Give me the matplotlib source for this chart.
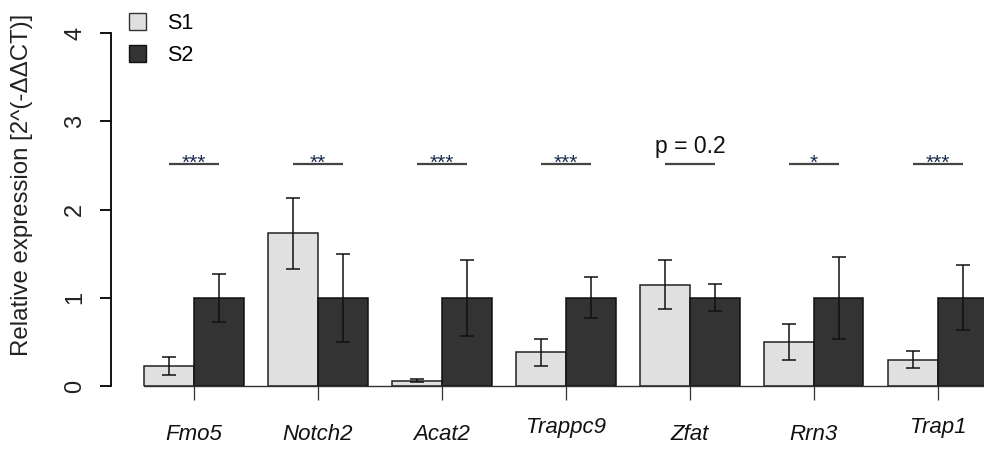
import numpy as np
import matplotlib
matplotlib.use("Agg")
import matplotlib.pyplot as plt
from matplotlib.patches import Patch

# data
genes = ["Fmo5", "Notch2", "Acat2", "Trappc9", "Zfat", "Rrn3", "Trap1"]
s1 = [0.23, 1.73, 0.06, 0.38, 1.15, 0.50, 0.30]
s1_err = [0.10, 0.40, 0.02, 0.15, 0.28, 0.20, 0.095]
s2 = [1.0, 1.0, 1.0, 1.0, 1.0, 1.0, 1.0]
s2_err = [0.27, 0.50, 0.43, 0.23, 0.155, 0.465, 0.37]
signif = ["***", "**", "***", "***", "p = 0.2", "*", "***"]

plt.rcParams["font.family"] = ["Liberation Sans", "DejaVu Sans"]

fig = plt.figure(figsize=(9.84, 4.49), dpi=100)
ax = fig.add_axes([111 / 984, 63 / 449, 873 / 984, 353 / 449])

w = 1.0
gap = 0.5
centers = 1.5 + np.arange(len(genes)) * (2 * w + gap)

ekw = dict(ecolor="#111111", elinewidth=1.1, capsize=5, capthick=1.1)
ax.bar(centers - w / 2, s1, w, yerr=s1_err, color="#e0e0e0",
       edgecolor="#222222", linewidth=1.1, error_kw=ekw, label="S1")
ax.bar(centers + w / 2, s2, w, yerr=s2_err, color="#333333",
       edgecolor="#111111", linewidth=1.1, error_kw=ekw, label="S2")

# significance lines
line_y = 2.51
for c, s in zip(centers, signif):
    ax.plot([c - w / 2, c + w / 2], [line_y, line_y], color="#444444",
            lw=1.6, solid_capstyle="butt", clip_on=False)
    if s.startswith("p"):
        ax.text(c, 2.64, s, ha="center", va="baseline", fontsize=16.5,
                color="#111111")
    else:
        ax.text(c, 2.46, s, ha="center", va="baseline", fontsize=15,
                color="#1a2a50")

ax.set_xlim(-0.173, 17.43)
ax.set_ylim(0, 4)

for sp in ["top", "right"]:
    ax.spines[sp].set_visible(False)
ax.spines["left"].set_linewidth(1.3)
ax.spines["left"].set_bounds(0, 4)
ax.spines["bottom"].set_linewidth(1.0)
ax.spines["bottom"].set_color("#333333")
ax.spines["bottom"].set_bounds(0.5, 17.43)

ax.set_yticks([0, 1, 2, 3, 4])
ax.set_yticklabels(["0", "1", "2", "3", "4"])
ax.tick_params(axis="y", length=8, width=1.3, pad=10, labelsize=17)
for lab in ax.get_yticklabels():
    lab.set_rotation(90)
    lab.set_ha("right")
    lab.set_va("center")
    lab.set_color("#222222")

ax.set_xticks(centers)
ax.set_xticklabels([""] * len(genes))
ax.tick_params(axis="x", length=10, width=0.9, color="#333333")

for c, g in zip(centers, genes):
    off = -34.2 if any(ch in g for ch in "pgqyj") else -38.9
    ax.annotate(g, xy=(c, 0), xycoords=("data", "axes fraction"),
                xytext=(0, off), textcoords="offset points",
                ha="center", va="baseline", fontsize=16, style="italic",
                color="#111111")

fig.text(22 / 984, (449 - 185) / 449, "Relative expression [2^(-\u0394\u0394CT)]",
         rotation=90, ha="center", va="center", fontsize=17.3,
         color="#222222")

handles = [Patch(facecolor="#e0e0e0", edgecolor="#333333", linewidth=1.0),
           Patch(facecolor="#333333", edgecolor="#111111", linewidth=1.0)]
leg = fig.legend(handles, ["S1", "S2"], loc="upper left",
                 bbox_to_anchor=(129 / 984, 1 - 13 / 449), frameon=False,
                 borderpad=0, borderaxespad=0, handlelength=0.8,
                 handleheight=0.8, handletextpad=0.95, labelspacing=0.5,
                 fontsize=15.5)

fig.savefig("out.png", dpi=100)
